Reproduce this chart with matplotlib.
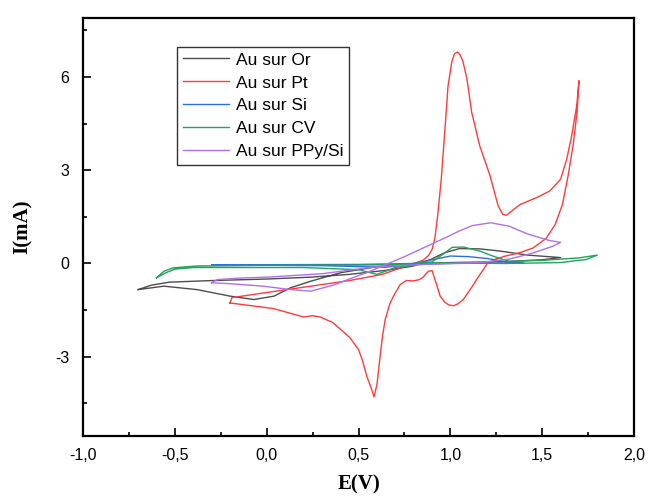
import matplotlib.pyplot as plt
from matplotlib.ticker import MultipleLocator, FuncFormatter

# Au sur Or
or_E = [-0.70, -0.63, -0.53, -0.30, 0.00, 0.24, 0.45, 0.65, 0.80, 0.90, 0.97, 1.05, 1.16, 1.27, 1.42, 1.60,
        1.50, 1.30, 1.00, 0.80, 0.60, 0.40, 0.24, 0.13, 0.04, -0.07, -0.20, -0.38, -0.56, -0.70]
or_I = [-0.84, -0.70, -0.60, -0.55, -0.50, -0.44, -0.35, -0.22, -0.08, 0.15, 0.35, 0.48, 0.47, 0.40, 0.27, 0.19,
        0.12, 0.06, 0.03, 0.00, -0.10, -0.30, -0.57, -0.78, -1.05, -1.16, -1.05, -0.84, -0.73, -0.84]

# Au sur Pt
pt_E = [-0.20, -0.19, -0.02, 0.24, 0.45, 0.63, 0.73, 0.80, 0.85, 0.88, 0.90, 0.915, 0.93, 0.94, 0.95, 0.97, 0.987,
        1.007, 1.022, 1.038, 1.052, 1.067, 1.09, 1.116, 1.16, 1.216, 1.26, 1.285, 1.305, 1.334, 1.38, 1.47, 1.54,
        1.60, 1.633, 1.66, 1.688, 1.70, 1.69, 1.668, 1.64, 1.61, 1.57, 1.52, 1.45, 1.38, 1.30, 1.25, 1.20, 1.18,
        1.15, 1.12, 1.07, 1.04, 1.016, 0.99, 0.97, 0.944, 0.925, 0.90, 0.88, 0.85, 0.83, 0.80, 0.76, 0.726, 0.69,
        0.67, 0.645, 0.63, 0.617, 0.60, 0.584, 0.572, 0.546, 0.52, 0.50, 0.453, 0.36, 0.29, 0.25, 0.20, 0.036, -0.20]
pt_I = [-1.27, -1.10, -0.95, -0.73, -0.55, -0.35, -0.14, 0.00, 0.10, 0.25, 0.45, 0.80, 1.50, 2.10, 2.70, 4.30, 5.70,
        6.47, 6.75, 6.80, 6.72, 6.53, 5.94, 4.86, 3.78, 2.82, 1.85, 1.58, 1.55, 1.69, 1.90, 2.12, 2.33,
        2.71, 3.35, 4.10, 5.08, 5.88, 4.90, 3.80, 2.80, 1.90, 1.25, 0.80, 0.50, 0.35, 0.24, 0.15, 0.00, -0.19,
        -0.45, -0.73, -1.16, -1.30, -1.36, -1.33, -1.25, -1.05, -0.68, -0.23, -0.25, -0.45, -0.52, -0.56, -0.55, -0.68, -1.05,
        -1.30, -1.80, -2.35, -3.00, -3.90, -4.29, -4.06, -3.65, -3.10, -2.77, -2.39, -1.90, -1.72, -1.68, -1.72, -1.45, -1.27]

# Au sur Si
si_E = [-0.30, 0.00, 0.50, 0.80, 0.90, 1.00, 1.10, 1.20, 1.30, 1.40, 1.00, 0.80, 0.65, 0.50, 0.30, 0.00, -0.30]
si_I = [-0.05, -0.04, -0.03, 0.00, 0.12, 0.24, 0.22, 0.16, 0.06, 0.02, 0.00, -0.03, -0.12, -0.10, -0.07, -0.06, -0.05]

# Au sur CV
cv_E = [-0.60, -0.56, -0.51, -0.38, 0.00, 0.50, 0.70, 0.80, 0.90, 0.96, 1.01, 1.07, 1.16, 1.23, 1.32, 1.50, 1.70, 1.80,
        1.74, 1.60, 1.30, 0.90, 0.70, 0.60, 0.50, 0.20, -0.40, -0.50, -0.55, -0.60]
cv_I = [-0.46, -0.25, -0.14, -0.08, -0.06, -0.05, -0.04, 0.00, 0.05, 0.30, 0.52, 0.53, 0.40, 0.24, 0.07, 0.10, 0.18, 0.27,
        0.13, 0.03, 0.00, 0.02, -0.13, -0.35, -0.20, -0.13, -0.13, -0.18, -0.30, -0.46]

# Au sur PPy/Si
ppy_E = [-0.30, -0.20, -0.02, 0.13, 0.24, 0.36, 0.55, 0.75, 0.98, 1.05, 1.12, 1.22, 1.32, 1.42, 1.54, 1.60,
         1.56, 1.45, 1.32, 1.16, 0.90, 0.60, 0.30, 0.00, -0.15, -0.27, -0.30]
ppy_I = [-0.62, -0.65, -0.73, -0.84, -0.89, -0.70, -0.28, 0.22, 0.85, 1.05, 1.22, 1.31, 1.20, 0.95, 0.74, 0.68,
         0.56, 0.34, 0.14, 0.03, -0.02, -0.10, -0.33, -0.44, -0.47, -0.52, -0.62]

series = [
    ("Au sur Or", or_E, or_I, "#4d4d4d"),
    ("Au sur Pt", pt_E, pt_I, "#ff3b3b"),
    ("Au sur Si", si_E, si_I, "#2f6fd8"),
    ("Au sur CV", cv_E, cv_I, "#22a45a"),
    ("Au sur PPy/Si", ppy_E, ppy_I, "#b070ee"),
]

plt.rcParams['font.family'] = ['Liberation Sans', 'DejaVu Sans']

fig = plt.figure(figsize=(6.49, 4.98), dpi=100)
ax = fig.add_axes([0.128, 0.1245, 0.849, 0.8395])

for label, E, I, color in series:
    ax.plot(E, I, color=color, lw=1.0, label=label)

ax.set_xlim(-1.0, 2.0)
ax.set_ylim(-5.55, 7.9)
ax.xaxis.set_major_locator(MultipleLocator(0.5))
ax.xaxis.set_minor_locator(MultipleLocator(0.25))
ax.yaxis.set_major_locator(MultipleLocator(3))
ax.yaxis.set_minor_locator(MultipleLocator(1.5))
ax.xaxis.set_major_formatter(FuncFormatter(lambda v, p: f"{v:.1f}".replace('.', ',')))
ax.yaxis.set_major_formatter(FuncFormatter(lambda v, p: f"{v:.0f}"))
ax.tick_params(which='both', direction='in', labelsize=11.5, width=1.2)
ax.tick_params(which='major', length=6)
ax.tick_params(axis='x', which='major', pad=9)
ax.tick_params(axis='y', which='major', pad=10)
ax.tick_params(which='minor', length=3)
for s in ax.spines.values():
    s.set_linewidth(1.6)

ax.set_xlabel('E(V)', family='Liberation Serif', fontweight='bold', fontsize=15, labelpad=8)
ax.set_ylabel('I(mA)', family='Liberation Serif', fontweight='bold', fontsize=15, labelpad=16)

leg = ax.legend(loc='upper left', bbox_to_anchor=(0.171, 0.93), fontsize=12.5, frameon=True,
                fancybox=False, edgecolor='black', handlelength=2.7, handletextpad=0.4,
                labelspacing=0.45, borderpad=0.3, borderaxespad=0)
leg.get_frame().set_linewidth(1.0)

fig.savefig('out.png', dpi=100)
